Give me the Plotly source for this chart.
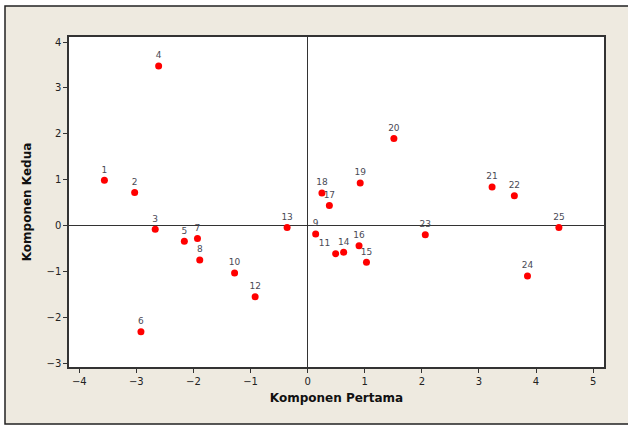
import plotly.graph_objects as go

labels = [str(i) for i in range(1, 26)]
pc1 = [-3.56, -3.03, -2.67, -2.61, -2.16, -2.92, -1.93, -1.89, 0.14, -1.28,
       0.49, -0.92, -0.36, 0.63, 1.03, 0.90, 0.38, 0.25, 0.92, 1.51,
       3.23, 3.62, 2.06, 3.85, 4.40]
pc2 = [0.99, 0.72, -0.08, 3.48, -0.34, -2.31, -0.28, -0.75, -0.18, -1.03,
       -0.61, -1.55, -0.04, -0.58, -0.80, -0.44, 0.44, 0.71, 0.93, 1.90,
       0.84, 0.65, -0.20, -1.10, -0.04]

x_ticks = [-4, -3, -2, -1, 0, 1, 2, 3, 4, 5]
y_ticks = [-3, -2, -1, 0, 1, 2, 3, 4]

L, R, T, B = 69, 604, 37, 367
W, H = 628, 425
pw, ph = R - L, B - T

def px(xp):
    return (xp - L) / pw

def py(yp):
    return (B - yp) / ph

text_pos = ["top center"] * len(labels)
text_pos[10] = "top left"    # label 11, nudged to avoid colliding with 14

fig = go.Figure()
fig.add_trace(go.Scatter(
    x=pc1, y=pc2, mode="markers+text", text=labels,
    textposition=text_pos,
    textfont=dict(family="DejaVu Sans", size=9, color="#4a4a55"),
    marker=dict(color="#ff0000", size=7, line=dict(width=0)),
    cliponaxis=False, showlegend=False,
))

fig.add_shape(type="rect", xref="paper", yref="paper",
              x0=px(5), x1=px(680), y0=py(424), y1=py(6),
              fillcolor="#eeeae0", line=dict(color="#222222", width=1.5),
              layer="below")
fig.add_shape(type="rect", xref="paper", yref="paper",
              x0=0, x1=1, y0=0, y1=1,
              fillcolor="white", line=dict(width=0),
              layer="below")

axis_common = dict(
    showgrid=False, zeroline=True, zerolinecolor="#333333", zerolinewidth=1,
    showline=True, linecolor="#333333", linewidth=1.5, mirror=True,
    ticks="outside", ticklen=4, tickcolor="#333333",
    tickfont=dict(family="DejaVu Sans", size=10, color="#222222"),
)

fig.update_xaxes(range=[-4.18, 5.19], tickvals=x_ticks,
                 title=dict(text="<b>Komponen Pertama</b>", standoff=8,
                            font=dict(family="DejaVu Sans", size=12, color="#111111")),
                 **axis_common)
fig.update_yaxes(range=[-3.08, 4.11], tickvals=y_ticks,
                 title=dict(text="<b>Komponen Kedua</b>", standoff=12,
                            font=dict(family="DejaVu Sans", size=12, color="#111111")),
                 **axis_common)

fig.update_layout(
    width=W, height=H,
    margin=dict(l=L, r=W - R, t=T, b=H - B, pad=0),
    paper_bgcolor="white", plot_bgcolor="white",
)

fig.write_html("out.html", config={"displayModeBar": False},
               post_script="document.body.style.margin='0px';document.body.style.overflow='hidden';")
